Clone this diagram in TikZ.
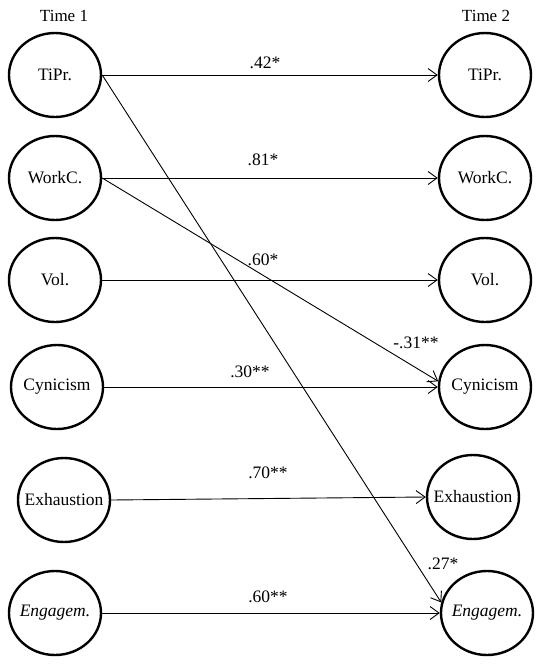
\documentclass[tikz,border=0pt]{standalone}
\usepackage{fontspec}
\setmainfont{Liberation Serif}
\usetikzlibrary{arrows.meta,shapes.geometric}
\begin{document}
\begin{tikzpicture}[x=1pt,y=-1pt,
  latent/.style={ellipse,draw,line width=2.4pt,minimum width=92pt,minimum height=84pt,inner xsep=-25pt,inner ysep=0pt,font=\fontsize{17.5}{20}\selectfont},
  path/.style={line width=0.9pt,-{Straight Barb[length=9pt,width=13pt,line width=0.9pt]}},
  coef/.style={font=\fontsize{17.5}{20}\selectfont,inner sep=0pt},
  ttl/.style={font=\fontsize{17}{20}\selectfont,inner sep=0pt}]
\useasboundingbox (0,0) rectangle (541,665);
\node[ttl] (t1) at (64,16) {Time 1};
\node[ttl] (t2) at (486,16) {Time 2};
\node[latent] (l1) at (55,75) {TiPr.};
\node[latent] (l2) at (55,178) {WorkC.};
\node[latent] (l3) at (55,280) {Vol.};
\node[latent] (l4) at (57,387) {Cynicism};
\node[latent] (l5) at (64,500) {Exhaustion};
\node[latent] (l6) at (55,613) {\itshape Engagem.};
\node[latent] (r1) at (485,75) {TiPr.};
\node[latent] (r2) at (485,178) {WorkC.};
\node[latent] (r3) at (485,280) {Vol.};
\node[latent] (r4) at (485,387) {Cynicism};
\node[latent] (r5) at (473,497) {Exhaustion};
\node[latent] (r6) at (487,613) {\itshape Engagem.};
\draw[path] (l1.east) -- (r1.west);
\draw[path] (l2.east) -- (r2.west);
\draw[path] (l3.east) -- (r3.west);
\draw[path] (l4.east) -- (r4.west);
\draw[path] (l5.east) -- (r5.west);
\draw[path] (l6.east) -- (r6.west);
\draw[path] (l1.east) -- (r6.167);
\draw[path] (l2.east) -- (r4.173);
\node[coef] (c1) at (265,63) {.42*};
\node[coef] (c2) at (263,160) {.81*};
\node[coef] (c3) at (263,260) {.60*};
\node[coef] (c4) at (416,343) {-.31**};
\node[coef] (c5) at (250,372) {.30**};
\node[coef] (c6) at (268,473) {.70**};
\node[coef] (c7) at (443,564) {.27*};
\node[coef] (c8) at (268,597) {.60**};
\end{tikzpicture}
\end{document}
